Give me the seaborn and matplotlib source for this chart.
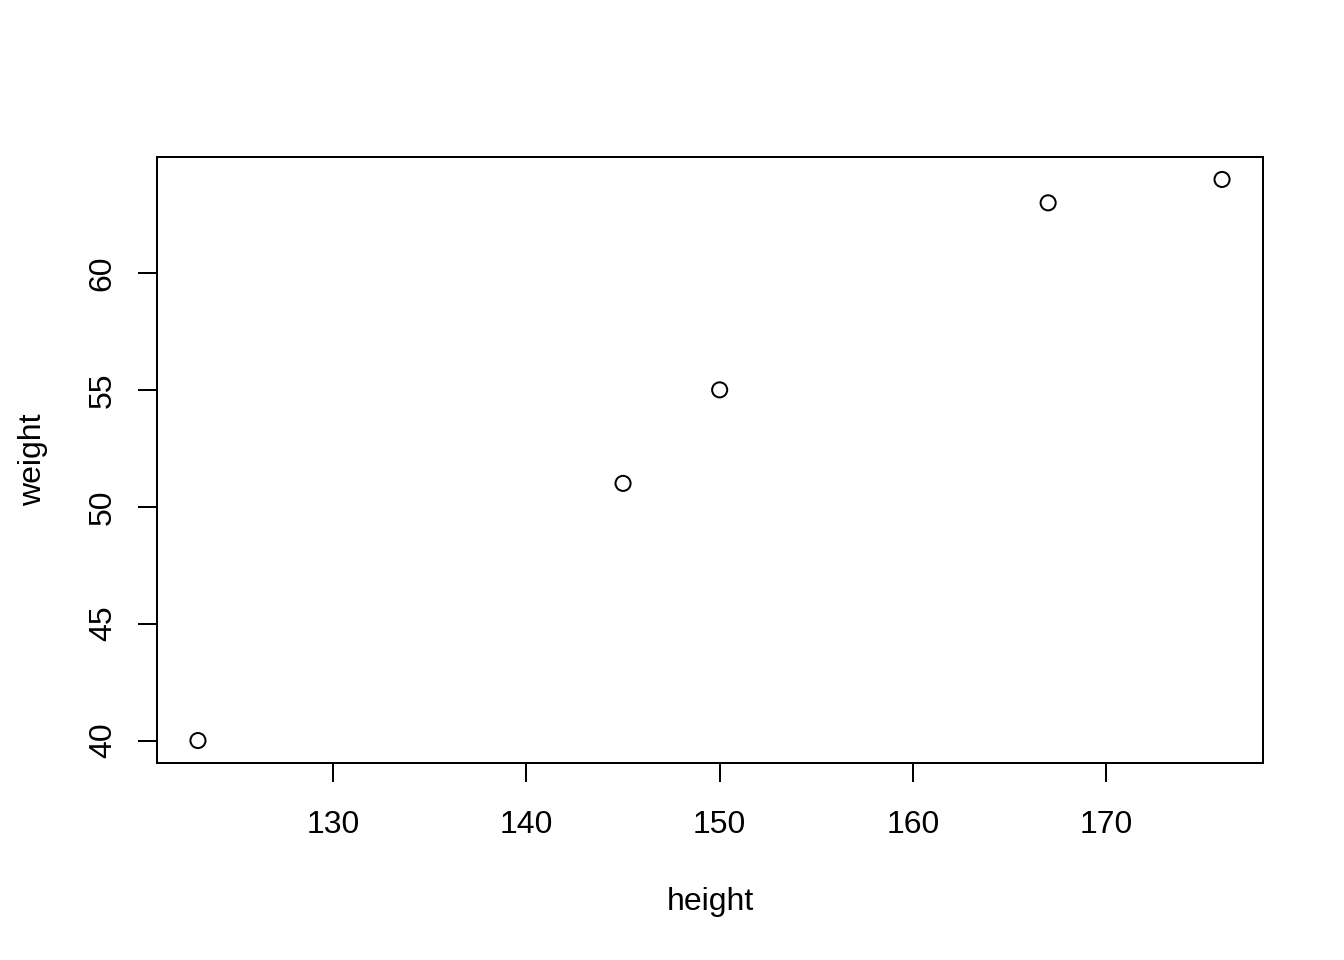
import matplotlib
matplotlib.use("Agg")
import matplotlib.pyplot as plt
import seaborn as sns
import pandas as pd

height = [123, 145, 150, 167, 176]
weight = [40, 51, 55, 63, 64]
x_ticks = [130, 140, 150, 160, 170]
y_ticks = [40, 45, 50, 55, 60]

sns.set_style("ticks")
plt.rcParams["font.family"] = ["Liberation Sans", "DejaVu Sans"]
plt.rcParams["font.size"] = 12
plt.rcParams["text.color"] = "black"
plt.rcParams["axes.labelcolor"] = "black"

df = pd.DataFrame({"height": height, "weight": weight})

fig = plt.figure(figsize=(7, 5), dpi=192)
ax = fig.add_axes([157/1344, 1-763/960, (1263-157)/1344, (763-157)/960])

sns.scatterplot(data=df, x="height", y="weight", ax=ax, marker="o", s=32,
                facecolor="none", edgecolor="black", linewidth=0.75)

def pad(lo, hi):
    r = hi - lo
    return lo - 0.04 * r, hi + 0.04 * r

ax.set_xlim(*pad(min(height), max(height)))
ax.set_ylim(*pad(min(weight), max(weight)))
ax.set_xticks(x_ticks)
ax.set_yticks(y_ticks)
ax.set_xticklabels([str(v) for v in x_ticks])
ax.set_yticklabels([str(v) for v in y_ticks], rotation=90, va="center")

for sp in ax.spines.values():
    sp.set_visible(True)
    sp.set_linewidth(0.75)
    sp.set_color("black")

ax.tick_params(axis="both", direction="out", length=7.2, width=0.75,
               colors="black", labelsize=12)
ax.tick_params(axis="x", pad=10.5)
ax.tick_params(axis="y", pad=7.5)

ax.set_xlabel("height", fontsize=12, labelpad=17.5, color="black")
ax.set_ylabel("weight", fontsize=12, labelpad=15, color="black")

fig.savefig("out.png", dpi=192)
